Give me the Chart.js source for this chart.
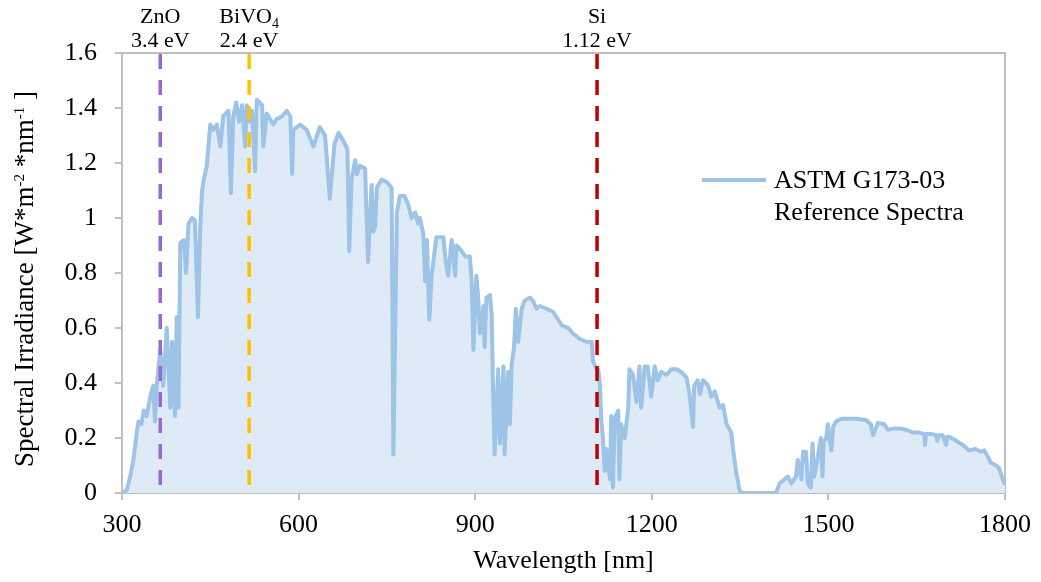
<!DOCTYPE html>
<html>
<head>
<meta charset="utf-8">
<script src="https://cdn.jsdelivr.net/npm/chart.js@4/dist/chart.umd.min.js"></script>
<style>
  html, body { margin: 0; padding: 0; background: #fff; }
  #wrap { width: 1041px; height: 582px; }
</style>
</head>
<body>
<div id="wrap"><canvas id="spectrumChart"></canvas></div>
<script>
// AM1.5 reference spectrum
const wavelengths = [
  300, 308, 314, 320, 325, 328, 333, 337, 342, 348, 353, 356, 359, 365, 370, 376, 382, 385, 390, 393,
  396, 399, 405, 409, 413, 419, 424, 429, 433, 436, 439, 444, 450, 455, 461, 467, 472, 481, 485, 489,
  494, 499, 504, 509, 512, 517, 521, 526, 529, 538, 540, 546, 557, 563, 572, 580, 586, 589, 591, 603,
  614, 625, 636, 645, 653, 661, 668, 676, 683, 686, 690, 696, 699, 704, 713, 718, 724, 727, 730, 733,
  741, 750, 758, 761, 767, 772, 780, 786, 792, 798, 803, 806, 812, 815, 818, 822, 826, 834, 846, 850,
  854, 860, 866, 868, 877, 883, 891, 894, 897, 902, 905, 908, 914, 916, 919, 925, 928, 930, 933, 939,
  942, 948, 950, 956, 959, 962, 966, 969, 973, 979, 984, 993, 998, 1004, 1010, 1021, 1032, 1047, 1058, 1066,
  1078, 1089, 1098, 1100, 1106, 1109, 1112, 1114, 1117, 1120, 1123, 1129, 1131, 1134, 1137, 1143, 1145, 1148, 1154, 1160,
  1162, 1168, 1174, 1179, 1182, 1188, 1193, 1199, 1205, 1210, 1216, 1225, 1233, 1242, 1250, 1259, 1264, 1270, 1272, 1278,
  1282, 1287, 1296, 1301, 1307, 1315, 1321, 1327, 1335, 1338, 1343, 1349, 1354, 1411, 1417, 1426, 1431, 1437, 1445, 1448,
  1454, 1457, 1462, 1465, 1470, 1473, 1476, 1482, 1487, 1490, 1492, 1496, 1499, 1505, 1508, 1513, 1522, 1536, 1547, 1564,
  1572, 1576, 1584, 1595, 1601, 1612, 1620, 1632, 1643, 1652, 1663, 1664, 1666, 1674, 1683, 1685, 1687, 1694, 1700, 1702,
  1705, 1717, 1728, 1739, 1750, 1759, 1765, 1770, 1776, 1785, 1790, 1796, 1800
];
const irradiance = [
  0, 0.01, 0.06, 0.13, 0.22, 0.26, 0.25, 0.30, 0.28, 0.35, 0.39, 0.26, 0.39, 0.52, 0.39, 0.60, 0.31, 0.55, 0.28, 0.64,
  0.31, 0.91, 0.92, 0.80, 0.98, 1.00, 0.99, 0.64, 0.97, 1.10, 1.14, 1.19, 1.34, 1.32, 1.34, 1.26, 1.37, 1.39, 1.09, 1.37,
  1.42, 1.35, 1.41, 1.26, 1.41, 1.35, 1.39, 1.17, 1.43, 1.41, 1.26, 1.38, 1.34, 1.36, 1.37, 1.39, 1.37, 1.16, 1.32, 1.34,
  1.32, 1.26, 1.33, 1.30, 1.07, 1.27, 1.31, 1.28, 1.25, 0.88, 1.14, 1.21, 1.16, 1.19, 1.18, 0.84, 1.12, 0.95, 0.97, 1.11,
  1.14, 1.13, 1.11, 0.14, 1.02, 1.08, 1.08, 1.05, 1.00, 1.02, 0.98, 1.00, 0.94, 0.77, 0.92, 0.63, 0.79, 0.93, 0.93, 0.84,
  0.79, 0.92, 0.79, 0.90, 0.88, 0.86, 0.86, 0.77, 0.52, 0.79, 0.71, 0.58, 0.68, 0.53, 0.71, 0.72, 0.65, 0.41, 0.14, 0.45,
  0.18, 0.46, 0.14, 0.44, 0.25, 0.47, 0.53, 0.67, 0.55, 0.67, 0.70, 0.71, 0.70, 0.67, 0.68, 0.67, 0.66, 0.61, 0.60, 0.58,
  0.56, 0.55, 0.55, 0.48, 0.45, 0.45, 0.39, 0.27, 0.20, 0.08, 0.16, 0.05, 0.28, 0.02, 0.27, 0.30, 0.05, 0.25, 0.20, 0.31,
  0.45, 0.43, 0.33, 0.46, 0.31, 0.46, 0.46, 0.35, 0.46, 0.41, 0.44, 0.43, 0.45, 0.45, 0.44, 0.42, 0.36, 0.24, 0.39, 0.41,
  0.36, 0.41, 0.39, 0.35, 0.37, 0.31, 0.32, 0.25, 0.22, 0.16, 0.08, 0.01, 0, 0, 0.035, 0.05, 0.06, 0.035, 0.06, 0.12,
  0.05, 0.15, 0.15, 0.035, 0.02, 0.18, 0.06, 0.13, 0.20, 0.06, 0.19, 0.195, 0.25, 0.155, 0.24, 0.26, 0.27, 0.27, 0.27, 0.265,
  0.25, 0.21, 0.255, 0.25, 0.23, 0.235, 0.235, 0.23, 0.22, 0.22, 0.215, 0.175, 0.215, 0.215, 0.21, 0.19, 0.21, 0.21, 0.175, 0.205,
  0.205, 0.19, 0.175, 0.155, 0.16, 0.15, 0.155, 0.135, 0.11, 0.10, 0.09, 0.05, 0.03
];

// band gap markers
const materials = ["ZnO", "BiVO", "Si"];
const materialSubs = ["", "4", ""];
const gapLabels = ["3.4 eV", "2.4 eV", "1.12 eV"];
const gapWavelengths = [365, 516, 1107];
const gapColors = ["#9966D6", "#FFC000", "#C00000"];

const xTicks = [300, 600, 900, 1200, 1500, 1800];

const FONT = "'Liberation Serif', 'Times New Roman', serif";
const GRAY = "#BFBFBF";
const BIG = 26;

const overlay = {
  id: "overlay",
  beforeDatasetsDraw(chart) {
    const { ctx, chartArea: a } = chart;
    ctx.save();
    ctx.strokeStyle = GRAY;
    ctx.lineWidth = 2;
    ctx.strokeRect(a.left, a.top, a.right - a.left, a.bottom - a.top);
    ctx.restore();
  },
  afterDatasetsDraw(chart) {
    const { ctx, chartArea: a, scales } = chart;
    ctx.save();
    // dashed band gap lines
    ctx.lineWidth = 3.5;
    ctx.setLineDash([15, 11]);
    gapWavelengths.forEach((w, i) => {
      const x = scales.x.getPixelForValue(w);
      ctx.strokeStyle = gapColors[i];
      ctx.beginPath();
      ctx.moveTo(x, a.top + 1);
      ctx.lineTo(x, a.bottom);
      ctx.stroke();
    });
    ctx.setLineDash([]);

    // labels above plot
    ctx.fillStyle = "#000";
    ctx.textBaseline = "alphabetic";
    gapWavelengths.forEach((w, i) => {
      const x = scales.x.getPixelForValue(w);
      ctx.font = "22px " + FONT;
      const mainW = ctx.measureText(materials[i]).width;
      ctx.font = "14px " + FONT;
      const subW = materialSubs[i] ? ctx.measureText(materialSubs[i]).width : 0;
      const start = x - (mainW + subW) / 2;
      ctx.font = "22px " + FONT;
      ctx.textAlign = "left";
      ctx.fillText(materials[i], start, 23);
      if (materialSubs[i]) {
        ctx.font = "14px " + FONT;
        ctx.fillText(materialSubs[i], start + mainW, 28);
      }
      ctx.font = "22px " + FONT;
      ctx.textAlign = "center";
      ctx.fillText(gapLabels[i], x, 47);
    });

    // legend
    const ds = chart.data.datasets[0];
    ctx.strokeStyle = ds.borderColor;
    ctx.lineWidth = 4;
    ctx.beginPath();
    ctx.moveTo(702, 180);
    ctx.lineTo(766, 180);
    ctx.stroke();
    ctx.font = BIG + "px " + FONT;
    ctx.textAlign = "left";
    ctx.textBaseline = "middle";
    ctx.fillText("ASTM G173-03", 774, 181);
    ctx.fillText("Reference Spectra", 774, 213);

    // axis titles
    ctx.textAlign = "center";
    ctx.fillText("Wavelength [nm]", (a.left + a.right) / 2, 561);

    ctx.translate(24, 279);
    ctx.rotate(-Math.PI / 2);
    const parts = [
      ["Spectral Irradiance [W*m", 27, 0],
      ["-2", 15, -9],
      [" *nm", 27, 0],
      ["-1", 15, -9],
      [" ]", 27, 0]
    ];
    let total = 0;
    parts.forEach(p => { ctx.font = p[1] + "px " + FONT; total += ctx.measureText(p[0]).width; });
    let cx = -total / 2;
    ctx.textAlign = "left";
    ctx.textBaseline = "alphabetic";
    parts.forEach(p => {
      ctx.font = p[1] + "px " + FONT;
      ctx.fillText(p[0], cx, 9 + p[2]);
      cx += ctx.measureText(p[0]).width;
    });
    ctx.restore();
  }
};

const points = wavelengths.map((w, i) => ({ x: w, y: irradiance[i] }));

new Chart(document.getElementById("spectrumChart"), {
  type: "line",
  data: {
    datasets: [{
      label: "ASTM G173-03 Reference Spectra",
      data: points,
      borderColor: "#9DC3E6",
      backgroundColor: "#DEEBF7",
      borderWidth: 4,
      fill: "origin",
      pointRadius: 0,
      tension: 0,
      borderJoinStyle: "round"
    }]
  },
  options: {
    responsive: true,
    maintainAspectRatio: false,
    animation: false,
    layout: { padding: { left: 0, right: 35, top: 53, bottom: 0 } },
    plugins: { legend: { display: false }, tooltip: { enabled: false } },
    scales: {
      x: {
        type: "linear",
        min: 300,
        max: 1800,
        afterBuildTicks: s => { s.ticks = xTicks.map(v => ({ value: v })); },
        afterFit: s => { s.height = 89; },
        grid: { drawOnChartArea: false, drawTicks: true, tickLength: 7, color: GRAY, lineWidth: 2 },
        border: { color: GRAY, width: 2 },
        ticks: {
          color: "#000",
          font: { family: FONT, size: BIG },
          padding: 10,
          maxRotation: 0,
          callback: v => String(v)
        }
      },
      y: {
        min: 0,
        max: 1.6,
        afterFit: s => { s.width = 122; },
        grid: { drawOnChartArea: false, drawTicks: true, tickLength: 7, color: GRAY, lineWidth: 2 },
        border: { color: GRAY, width: 2 },
        ticks: {
          stepSize: 0.2,
          color: "#000",
          font: { family: FONT, size: BIG },
          padding: 18,
          callback: v => String(+v.toFixed(1))
        }
      }
    }
  },
  plugins: [overlay]
});
</script>
</body>
</html>
